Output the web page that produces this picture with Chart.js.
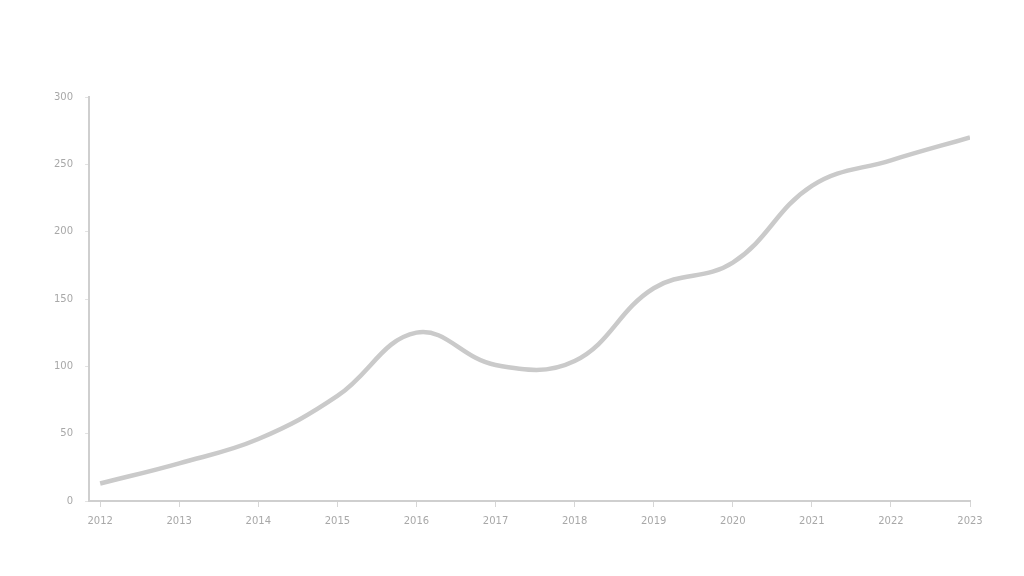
<!DOCTYPE html>
<html>
<head>
<meta charset="utf-8">
<script src="https://cdn.jsdelivr.net/npm/chart.js@4"></script>
<style>
  html, body { margin: 0; padding: 0; background: #fff; }
  #wrap { width: 1024px; height: 576px; }
</style>
</head>
<body>
<div id="wrap"><canvas id="lineChart" width="1024" height="576"></canvas></div>
<script>
// values
const xLabels = ['2012', '2013', '2014', '2015', '2016', '2017', '2018', '2019', '2020', '2021', '2022', '2023'];
const values = [13, 28, 46, 78, 125, 101, 104, 158, 177, 234, 253, 270];
const yTicks = [0, 50, 100, 150, 200, 250, 300];

const points = values.map((v, i) => ({ x: i, y: v }));

const ctx = document.getElementById('lineChart').getContext('2d');
new Chart(ctx, {
    type: 'line',
    data: {
        datasets: [{
            data: points,
            borderColor: '#cacaca',
            borderWidth: 4.5,
            tension: 0.4,
            pointRadius: 0,
            fill: false
        }]
    },
    options: {
        responsive: false,
        animation: false,
        layout: { padding: { left: 42, right: 54, top: 97, bottom: 41 } },
        plugins: { legend: { display: false }, tooltip: { enabled: false } },
        scales: {
            x: {
                type: 'linear',
                min: -0.14,
                max: 11,
                afterBuildTicks: axis => { axis.ticks = xLabels.map((_, i) => ({ value: i })); },
                ticks: {
                    callback: v => xLabels[v],
                    color: '#a8a8a8',
                    font: { family: 'DejaVu Sans', size: 10 },
                    maxRotation: 0,
                    padding: 8
                },
                grid: { drawOnChartArea: false, drawTicks: true, tickLength: 6, color: '#d6d6d6' },
                border: { display: true, color: '#cfcfcf', width: 2 }
            },
            y: {
                min: 0,
                max: 300,
                afterBuildTicks: axis => { axis.ticks = yTicks.map(v => ({ value: v })); },
                ticks: {
                    color: '#a8a8a8',
                    font: { family: 'DejaVu Sans', size: 10 },
                    padding: 12
                },
                grid: { drawOnChartArea: false, drawTicks: true, tickLength: 4, color: '#e2e2e2' },
                border: { display: true, color: '#cfcfcf', width: 2 }
            }
        }
    }
});
</script>
</body>
</html>
